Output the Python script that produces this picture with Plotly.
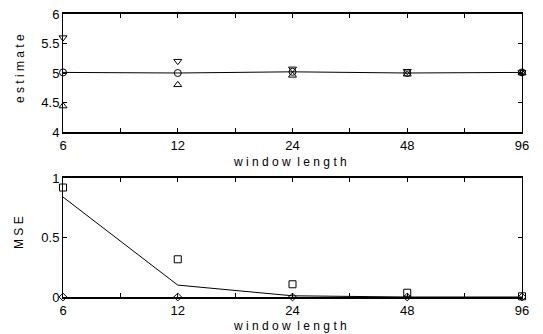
import numpy as np
import plotly.graph_objects as go
from plotly.subplots import make_subplots

window = [6, 12, 24, 48, 96]
tick_labels = ["6", "12", "24", "48", "96"]

est_circle = [5.01, 5.0, 5.02, 5.0, 5.01]
est_down = [5.6, 5.2, 5.07, 5.03, 5.01]
est_up = [4.44, 4.8, 4.96, 4.98, 5.0]
est_line = [5.01, 5.0, 5.02, 5.0, 5.01]

mse_square = [0.92, 0.317, 0.107, 0.036, 0.006]
mse_line = [0.84, 0.10, 0.01, 0.0, 0.0]
mse_diamond = [0.0, 0.0, 0.0, 0.0, 0.0]

fig = make_subplots(rows=2, cols=1, vertical_spacing=0.0)

FONT = "Liberation Sans, Arial, sans-serif"

def mk(x, y, sym, row, size=7):
    fig.add_trace(go.Scatter(x=x, y=y, mode="markers", cliponaxis=False,
                             marker=dict(symbol=sym, size=size, color="black",
                                         line=dict(width=1)),
                             showlegend=False), row=row, col=1)

fig.add_trace(go.Scatter(x=window, y=est_line, mode="lines", line=dict(color="black", width=1),
                         showlegend=False, cliponaxis=False), row=1, col=1)
mk(window, est_circle, "circle-open", 1)
mk(window, est_down, "triangle-down-open", 1)
mk(window, est_up, "triangle-up-open", 1)

fig.add_trace(go.Scatter(x=window, y=mse_line, mode="lines", line=dict(color="black", width=1),
                         showlegend=False, cliponaxis=False), row=2, col=1)
mk(window, mse_square, "square-open", 2)
mk(window, mse_diamond, "diamond-open", 2, size=6)

# ticks at each doubling and half-way (geometric mean)
tv = []
tt = []
for i, w in enumerate(window):
    tv.append(w)
    tt.append(tick_labels[i])
    if i < len(window) - 1:
        tv.append(w * np.sqrt(2))
        tt.append("")

eps = 1e-6
xcommon = dict(type="log", range=[np.log10(window[0]) - eps, np.log10(window[-1]) + eps],
               tickmode="array", tickvals=tv, ticktext=tt, ticks="inside", ticklen=4,
               tickcolor="black", showline=True, linecolor="black", linewidth=2,
               mirror="ticks", showgrid=False, zeroline=False, automargin=False,
               tickfont=dict(family=FONT, size=13, color="black"))
fig.update_xaxes(**xcommon, row=1, col=1)
fig.update_xaxes(**xcommon, row=2, col=1)

ycommon = dict(ticks="inside", ticklen=4, tickcolor="black", showline=True, linecolor="black",
               linewidth=1, mirror="ticks", showgrid=False, zeroline=False, automargin=False,
               tickfont=dict(family=FONT, size=13, color="black"))
fig.update_yaxes(**ycommon, range=[4, 6], tickvals=[4, 4.5, 5, 5.5, 6],
                 ticktext=["4", "4.5", "5", "5.5", "6"], row=1, col=1)
fig.update_yaxes(**ycommon, range=[0, 1], tickvals=[0, 0.5, 1], ticktext=["0", "0.5", "1"],
                 row=2, col=1)

L, R, T, B, W, H = 63, 21, 14, 37, 543, 334
pw, ph = W - L - R, H - T - B

def px(x):
    return (x - L) / pw

def py(y):
    return (H - B - y) / ph

tfont = dict(family=FONT, size=12, color="black")
xt = "w i n d o w&nbsp;&nbsp;l e n g t h"
anns = [
    dict(text=xt, x=px(290), y=py(162), xref="paper", yref="paper", showarrow=False,
         xanchor="center", yanchor="middle", font=tfont),
    dict(text=xt, x=px(290), y=py(326), xref="paper", yref="paper", showarrow=False,
         xanchor="center", yanchor="middle", font=tfont),
    dict(text="e s t i m a t e", x=px(20), y=py(69), xref="paper", yref="paper", showarrow=False,
         xanchor="center", yanchor="middle", textangle=-90, font=tfont),
    dict(text="M S E", x=px(19), y=py(233), xref="paper", yref="paper", showarrow=False,
         xanchor="center", yanchor="middle", textangle=-90, font=tfont),
]

fig.update_layout(width=W, height=H, margin=dict(l=L, r=R, t=T, b=B),
                  paper_bgcolor="white", plot_bgcolor="white", annotations=anns,
                  xaxis=dict(domain=[0, 1]), yaxis=dict(domain=[165 / 283, 1.0]),
                  xaxis2=dict(domain=[0, 1]), yaxis2=dict(domain=[0.0, 119 / 283]))

fig.write_html("out.html")
